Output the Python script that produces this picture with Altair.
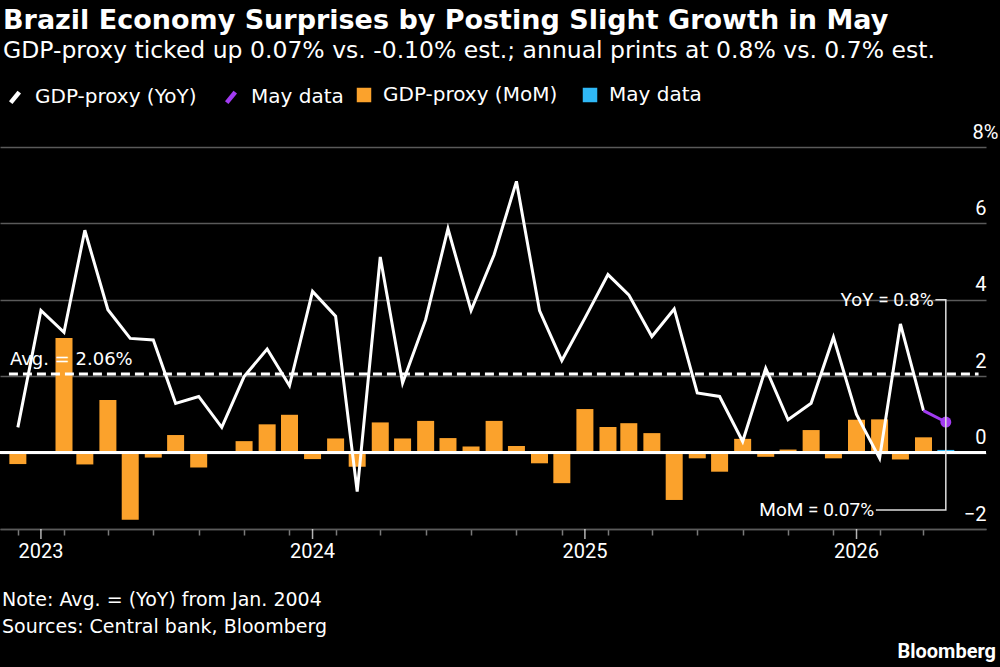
import altair as alt
import pandas as pd

# ---------------- data ----------------
months = [d.strftime("%Y-%m-%d") for d in pd.date_range("2022-12-01", periods=42, freq="MS")]

yoy = [0.66,
       3.72, 3.15, 5.82, 3.74, 2.99, 2.95, 1.29, 1.47, 0.66, 1.99, 2.71, 1.75,
       4.22, 3.57, -1.02, 5.12, 1.82, 3.48, 5.86, 3.72, 5.18, 7.10, 3.72, 2.41,
       3.52, 4.66, 4.13, 3.04, 3.76, 1.56, 1.47, 0.29, 2.21, 0.86, 1.29, 3.02,
       1.00, -0.15, 3.37, 1.10, 0.80]

mom = [-0.30,
       -0.03, 3.00, -0.31, 1.38, -1.76, -0.13, 0.46, -0.39, 0.02, 0.30, 0.74, 0.99,
       -0.17, 0.37, -0.37, 0.79, 0.37, 0.83, 0.38, 0.16, 0.83, 0.17, -0.28, -0.80,
       1.14, 0.67, 0.77, 0.51, -1.24, -0.15, -0.50, 0.36, -0.11, 0.08, 0.59, -0.15,
       0.86, 0.87, -0.18, 0.40, 0.07]

avg_yoy = 2.06
yoy_label = "YoY = 0.8%"
mom_label = "MoM = 0.07%"
line_names = ["GDP-proxy (YoY)", "May data"]
bar_names = ["GDP-proxy (MoM)", "May data"]
y_ticks = [-2, 0, 2, 4, 6, 8]
year_ticks = ["2023-01-01", "2024-01-01", "2025-01-01", "2026-01-01"]
year_labels = ["2023", "2024", "2025", "2026"]

title = "Brazil Economy Surprises by Posting Slight Growth in May"
subtitle = "GDP-proxy ticked up 0.07% vs. -0.10% est.; annual prints at 0.8% vs. 0.7% est."
note = "Note: Avg. = (YoY) from Jan. 2004"
source = "Sources: Central bank, Bloomberg"

# ---------------- style ----------------
FONT = "DejaVu Sans"
NUMFONT = "Roboto"
WHITE = "#ffffff"
ORANGE = "#FBA22C"
PURPLE = "#A23BF2"
CYAN = "#2FB8F6"
GRID = "#5a5a5a"
TICK = "#7a7a7a"


def ms(s):
    return int(pd.Timestamp(s).value // 10**6)


# ---------------- tables ----------------
line_df = pd.concat([
    pd.DataFrame({"date": months[:-1], "value": yoy[:-1], "series": line_names[0]}),
    pd.DataFrame({"date": months[-2:], "value": yoy[-2:], "series": line_names[1]}),
])
last_df = pd.DataFrame({"date": months[-1:], "value": yoy[-1:]})
bar_df = pd.DataFrame({
    "date": months,
    "value": mom,
    "series": [bar_names[0]] * (len(months) - 1) + [bar_names[1]],
})
avg_df = pd.DataFrame({"start": ["2022-11-19"], "end": ["2026-06-14"], "value": [avg_yoy],
                       "label": ["Avg. = " + f"{avg_yoy:.2f}%"]})
conn_df = pd.DataFrame({
    "date": ["2026-04-17", "2026-05-01", "2026-05-01", "2026-01-27"],
    "value": [4.0, 4.0, -1.5, -1.5],
    "order": [0, 1, 2, 3],
})
ann_df = pd.DataFrame({"date": ["2026-04-16", "2026-01-26"], "value": [4.0, -1.5],
                       "label": [yoy_label, mom_label]})
year_df = pd.DataFrame({"date": year_ticks, "label": year_labels})

x_scale = alt.Scale(type="utc", domain=[ms("2022-11-07"), ms("2026-06-24")], padding=0)
y_scale = alt.Scale(domain=[-2, 8], nice=False, zero=False)

x_axis = alt.Axis(
    values=[ms(m) for m in months],
    labels=False,
    tickSize=6, tickColor=TICK, tickWidth=1.5,
    domainColor=GRID, domainWidth=1.5,
    grid=False, title=None,
)
y_axis = alt.Axis(
    orient="right", values=y_ticks,
    labelExpr="datum.value == 8 ? '8%' : datum.label",
    grid=True, gridColor=GRID, gridWidth=1.5, domain=False, ticks=False,
    labelAlign="right",
    labelPadding={"condition": {"test": "datum.value == 8", "value": 12}, "value": 0},
    labelBaseline="alphabetic",
    labelOffset=-9,
    labelFontSize=20, labelColor=WHITE, labelFont=NUMFONT, title=None,
)

X = alt.X("date:T", scale=x_scale, axis=x_axis, title=None)
Y = alt.Y("value:Q", scale=y_scale, axis=y_axis, title=None)

bars = alt.Chart(bar_df).mark_bar(size=17).encode(
    x=X, y=Y,
    fill=alt.Fill("series:N", scale=alt.Scale(domain=bar_names, range=[ORANGE, CYAN]),
                  legend=alt.Legend(orient="none", legendX=354, legendY=-62, direction="horizontal",
                                    title=None, symbolType="square", symbolSize=210,
                                    symbolStrokeWidth=0, labelFontSize=20, labelColor=WHITE,
                                    labelFont=FONT, columnPadding=22, labelOffset=9,
                                    labelLimit=400)),
)

# longer white ticks and year labels under each January
year_tick_marks = alt.Chart(year_df).mark_tick(color=WHITE, thickness=1.5, size=10,
                                               orient="vertical", yOffset=5).encode(
    x=alt.X("date:T", scale=x_scale), y=alt.datum(-2, scale=y_scale))
year_text = alt.Chart(year_df).mark_text(font=NUMFONT, fontSize=20, color=WHITE,
                                         baseline="middle", dy=23).encode(
    x=alt.X("date:T", scale=x_scale), y=alt.datum(-2, scale=y_scale), text="label:N")

zero = alt.Chart(bar_df).mark_rule(color=WHITE, strokeWidth=2).encode(y=alt.datum(0))

avg_rule = alt.Chart(avg_df).mark_rule(color=WHITE, strokeWidth=3, strokeDash=[9, 5]).encode(
    x=alt.X("start:T", scale=x_scale), x2="end:T", y=alt.Y("value:Q", scale=y_scale))
avg_text = alt.Chart(avg_df).mark_text(align="left", baseline="alphabetic", dy=-9, dx=1,
                                      font=FONT, fontSize=18, color=WHITE).encode(
    x=alt.X("start:T", scale=x_scale), y=alt.Y("value:Q", scale=y_scale), text="label:N")

lines = alt.Chart(line_df).mark_line(strokeWidth=3).encode(
    x=alt.X("date:T", scale=x_scale), y=alt.Y("value:Q", scale=y_scale),
    stroke=alt.Stroke("series:N", scale=alt.Scale(domain=line_names, range=[WHITE, PURPLE]),
                      legend=alt.Legend(orient="none", legendX=3, legendY=-62, direction="horizontal",
                                        title=None, symbolType="M-0.45,0.55L0.45,-0.55",
                                        symbolStrokeWidth=4.5, symbolSize=360,
                                        labelFontSize=20, labelColor=WHITE, labelFont=FONT,
                                        columnPadding=20, labelOffset=8, labelLimit=400)),
)
dot = alt.Chart(last_df).mark_point(filled=True, size=120, color=PURPLE, opacity=1).encode(
    x=alt.X("date:T", scale=x_scale), y=alt.Y("value:Q", scale=y_scale))

conn = alt.Chart(conn_df).mark_line(color="#dddddd", strokeWidth=1.5).encode(
    x=alt.X("date:T", scale=x_scale), y=alt.Y("value:Q", scale=y_scale), order="order:Q")
ann = alt.Chart(ann_df).mark_text(align="right", baseline="middle", dx=-1, font=NUMFONT,
                                  fontSize=19, color=WHITE).encode(
    x=alt.X("date:T", scale=x_scale), y=alt.Y("value:Q", scale=y_scale), text="label:N")

foot1 = alt.Chart(pd.DataFrame({"t": [note]})).mark_text(
    align="left", baseline="middle", font=FONT, fontSize=19, color=WHITE).encode(
    x=alt.value(2), y=alt.value(453), text="t:N")
foot2 = alt.Chart(pd.DataFrame({"t": [source]})).mark_text(
    align="left", baseline="middle", font=FONT, fontSize=19, color=WHITE).encode(
    x=alt.value(2), y=alt.value(480), text="t:N")
brand = alt.Chart(pd.DataFrame({"t": ["Bloomberg"]})).mark_text(
    align="right", baseline="middle", font=NUMFONT, fontSize=20, fontWeight="bold", color=WHITE).encode(
    x=alt.value(996), y=alt.value(505), text="t:N")

chart = alt.layer(
    bars, year_tick_marks, year_text, zero, avg_rule, avg_text, lines, dot, conn, ann,
    foot1, foot2, brand
).resolve_scale(fill="independent", stroke="independent").properties(
    width=986, height=382,
    autosize=alt.AutoSizeParams(type="none"),
    padding={"left": 0, "top": 147, "right": 14, "bottom": 138},
    background="black",
    title=alt.Title(title, subtitle=subtitle, anchor="start", frame="group", offset=22, dx=3,
                    font=FONT, fontSize=27, fontWeight="bold", color=WHITE,
                    subtitleFont=FONT, subtitleFontSize=23.5, subtitleColor=WHITE, subtitlePadding=4),
).configure_view(stroke=None)

chart.save("out.html", embed_options={"renderer": "svg", "actions": False})
